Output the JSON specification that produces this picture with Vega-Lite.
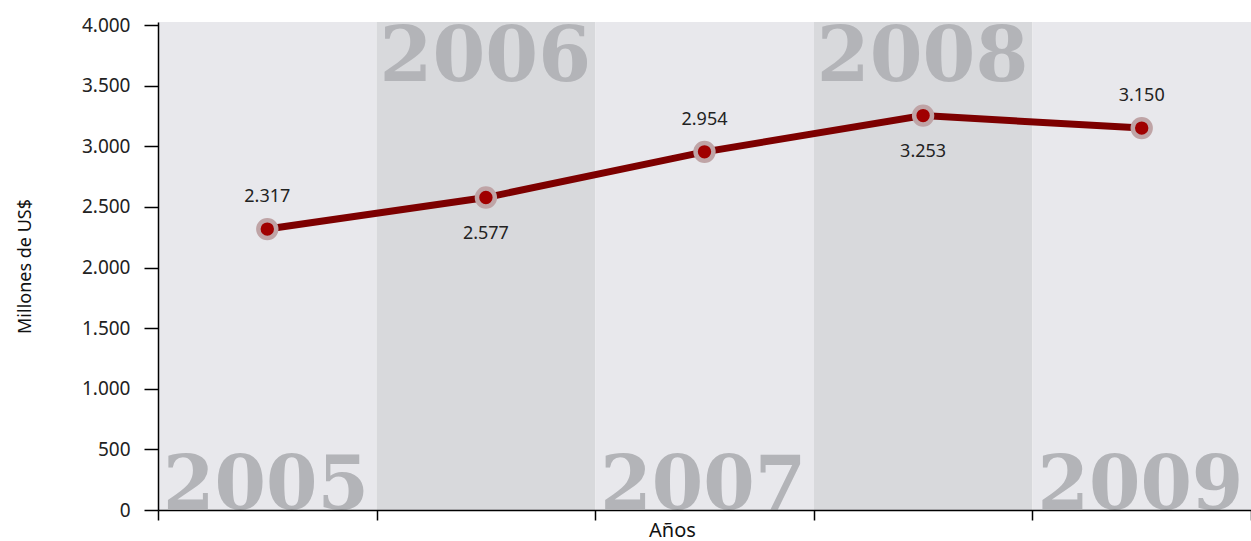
{
  "$schema": "https://vega.github.io/schema/vega-lite/v6.json",
  "width": 1093,
  "height": 488,
  "autosize": {"type": "none"},
  "padding": {"left": 158, "top": 22, "right": 0, "bottom": 31},
  "background": "white",
  "config": {"view": {"stroke": null}, "font": "Noto Sans"},
  "data": {"values": [
    {"year": "2005", "value": 2317, "label": "2.317"},
    {"year": "2006", "value": 2577, "label": "2.577"},
    {"year": "2007", "value": 2954, "label": "2.954"},
    {"year": "2008", "value": 3253, "label": "3.253"},
    {"year": "2009", "value": 3150, "label": "3.150"}
  ]},
  "encoding": {
    "x": {
      "field": "year", "type": "ordinal",
      "scale": {"paddingInner": 0, "paddingOuter": 0},
      "axis": {
        "labels": false, "tickBand": "extent", "tickSize": 10, "tickWidth": 1.5,
        "tickColor": "black", "domainColor": "black", "domainWidth": 1.5,
        "title": "Años", "titleFontSize": 20, "titleFontWeight": "normal",
        "titleColor": "#111", "titleX": 514, "titleY": 26, "titleBaseline": "alphabetic",
        "zindex": 1
      }
    }
  },
  "layer": [
    {
      "mark": {"type": "rect"},
      "encoding": {
        "y": {"datum": 4025, "type": "quantitative"},
        "y2": {"datum": 0},
        "color": {
          "field": "year", "type": "nominal", "legend": null,
          "scale": {"domain": ["2005", "2006", "2007", "2008", "2009"],
                    "range": ["#e8e8ec", "#d8d9dc", "#e8e8ec", "#d8d9dc", "#e8e8ec"]}
        }
      }
    },
    {
      "transform": [{"filter": "datum.year == '2006' || datum.year == '2008'"}],
      "mark": {"type": "text", "font": "DejaVu Serif", "fontWeight": "bold", "fontSize": 76,
               "align": "left", "baseline": "top", "dx": 3, "dy": -1, "color": "#b3b4b8"},
      "encoding": {
        "x": {"field": "year", "type": "ordinal", "bandPosition": 0},
        "y": {"datum": 4025, "type": "quantitative"},
        "text": {"field": "year"}
      }
    },
    {
      "transform": [{"filter": "datum.year == '2005' || datum.year == '2007' || datum.year == '2009'"}],
      "mark": {"type": "text", "font": "DejaVu Serif", "fontWeight": "bold", "fontSize": 74,
               "align": "left", "baseline": "alphabetic", "dx": 5, "dy": -1, "color": "#b3b4b8"},
      "encoding": {
        "x": {"field": "year", "type": "ordinal", "bandPosition": 0},
        "y": {"datum": 0, "type": "quantitative"},
        "text": {"field": "year"}
      }
    },
    {
      "mark": {"type": "line", "color": "#7d0000", "strokeWidth": 7},
      "encoding": {
        "y": {
          "field": "value", "type": "quantitative",
          "scale": {"domain": [0, 4025], "nice": false},
          "axis": {
            "values": [0, 500, 1000, 1500, 2000, 2500, 3000, 3500, 4000],
            "labelExpr": "replace(format(datum.value, ','), ',', '.')",
            "grid": false, "domainColor": "black", "domainWidth": 1.5,
            "tickColor": "black", "tickSize": 14, "tickWidth": 1.5,
            "labelFontSize": 19, "labelColor": "#222", "labelPadding": 14,
            "title": "Millones de US$", "titleFontSize": 18, "titleFontWeight": "normal",
            "titleColor": "#111", "titlePadding": 47, "zindex": 1
          }
        }
      }
    },
    {
      "mark": {"type": "point", "filled": true, "size": 320, "fill": "#a00000",
               "stroke": "#bfa4a6", "strokeWidth": 4.5, "opacity": 1},
      "encoding": {"y": {"field": "value", "type": "quantitative"}}
    },
    {
      "transform": [{"filter": "datum.year == '2005' || datum.year == '2007' || datum.year == '2009'"}],
      "mark": {"type": "text", "fontSize": 18, "color": "#222", "dy": -32},
      "encoding": {
        "y": {"field": "value", "type": "quantitative"},
        "text": {"field": "label"}
      }
    },
    {
      "transform": [{"filter": "datum.year == '2006' || datum.year == '2008'"}],
      "mark": {"type": "text", "fontSize": 18, "color": "#222", "dy": 36},
      "encoding": {
        "y": {"field": "value", "type": "quantitative"},
        "text": {"field": "label"}
      }
    }
  ]
}
